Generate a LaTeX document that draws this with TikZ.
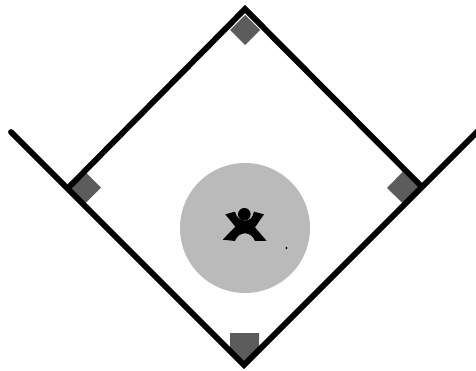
\documentclass[tikz,border=0pt]{standalone}
\definecolor{basegray}{gray}{0.36}
\definecolor{discgray}{gray}{0.73}
\tikzset{
  field/.style={line width=5.8pt,black,line join=miter,line cap=round},
  basepad/.style={fill=basegray,draw=none},
  figureink/.style={fill=black,draw=none}
}
\begin{document}
\begin{tikzpicture}[x=1pt,y=-1pt]
\useasboundingbox (0,0) rectangle (476,370);
% disc
\fill[discgray] (245,228) circle (65);
\fill[black] (286.5,248) circle (1.2);
% bases
\fill[basepad] (245,15) -- (260,30) -- (245,45) -- (230,30) -- cycle;
\fill[basepad] (70,187.5) -- (85.5,172) -- (101,187.5) -- (85.5,203) -- cycle;
\fill[basepad] (387,188) -- (402.5,172) -- (418,187.5) -- (402.5,203) -- cycle;
\fill[basepad] (230,333) -- (259,333) -- (259,348) -- (245,362) -- (230,348) -- cycle;
% field lines
\draw[field] (11,132) -- (244,365) -- (480,129);
\draw[field] (70,186) -- (245,9) -- (421,186);
% figure
\begin{scope}[shift={(190,170)},x=0.3333pt,y=-0.3333pt]
\fill[figureink] (163,133) circle (19);
\fill[figureink] (106,133) -- (135,125) .. controls (140,143) and (150,152) .. (165,152)
  .. controls (180,152) and (188,143) .. (192,125) -- (222,133) -- (195,172)
  -- (230,213) -- (195,213) .. controls (190,198) and (178,190) .. (165,190)
  .. controls (152,190) and (140,198) .. (135,213) -- (98,209) -- (136,170) -- cycle;
\end{scope}
\end{tikzpicture}
\end{document}
